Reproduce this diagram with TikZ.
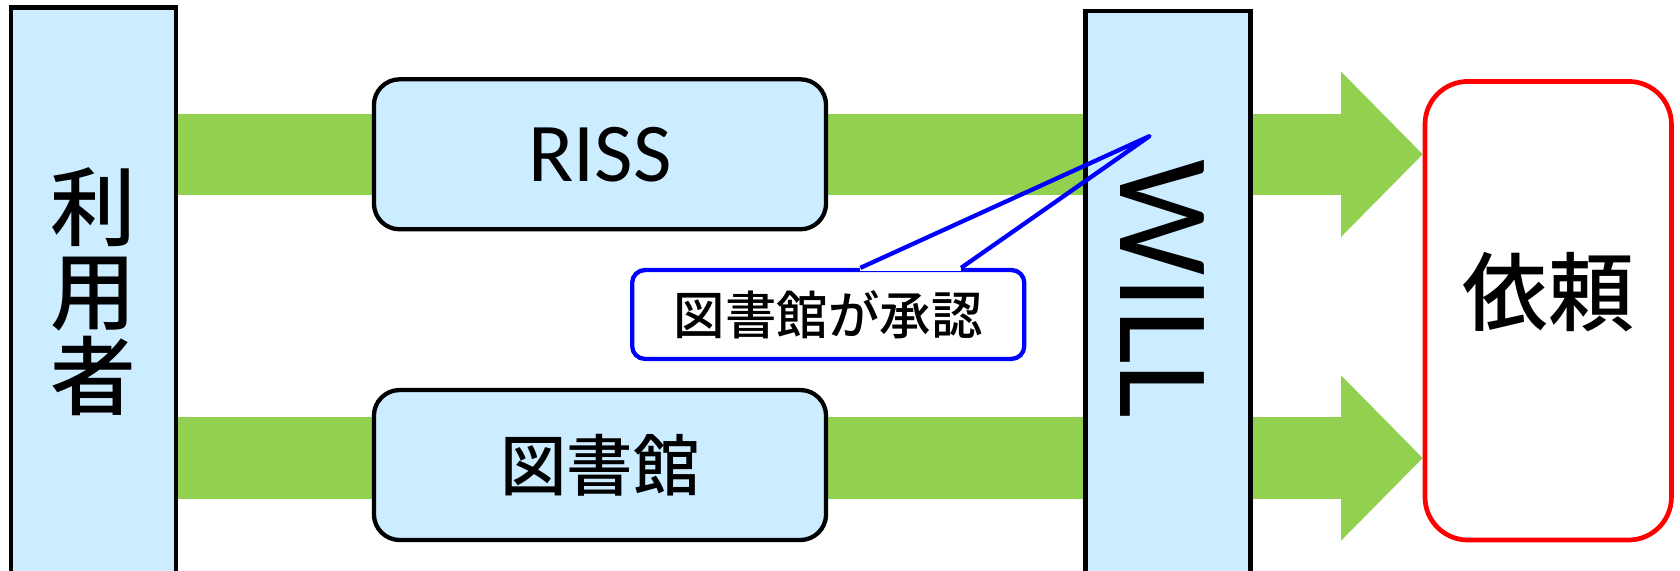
\documentclass[tikz,border=0pt]{standalone}
\usepackage{fontspec}
\setmainfont{Noto Sans CJK JP}[UprightFont=* Medium]
\newfontfamily\latinfont{Carlito}
\usetikzlibrary{arrows.meta,backgrounds}
\definecolor{paleblue}{HTML}{CCECFF}
\definecolor{flowgreen}{HTML}{92D050}

\begin{document}
\begin{tikzpicture}[x=0.5pt, y=-0.5pt,
    side/.style ={rectangle, draw, line width=2pt, fill=paleblue, inner sep=0pt, minimum width=77pt, minimum height=265pt},
    service/.style ={rectangle, rounded corners=12pt, draw, line width=2pt, fill=paleblue, minimum width=211pt, minimum height=70pt},
    request/.style ={rectangle, rounded corners=20pt, draw=red, line width=2.2pt, fill=white, minimum width=115pt, minimum height=214pt},
    note/.style ={rectangle, rounded corners=6pt, draw=blue, line width=2pt, fill=white, minimum width=183pt, minimum height=41.5pt, font=\fontsize{24pt}{28pt}\selectfont},
    flow/.style ={draw=flowgreen, line width=38pt, -{Triangle[length=38pt, width=77pt, line width=0pt]}}]
   \useasboundingbox (0,0) rectangle (1568,532);
   \node[side, align=center, font=\fontsize{40pt}{39.5pt}\selectfont] (user) at (87,272) {利\\用\\者};
   \node[service, font=\latinfont\fontsize{39pt}{44pt}\selectfont] (riss) at (560,144) {RISS};
   \node[service, font=\fontsize{31pt}{36pt}\selectfont] (lib) at (560,434) {図書館};
   \node[side, label={[xshift=-2.5pt, yshift=2.5pt, rotate=-90, font=\latinfont\fontsize{61pt}{68pt}\selectfont]center:WILL}] (will) at (1090,275) {};
   \node[request, label={[yshift=8.5pt, font=\fontsize{40pt}{48pt}\selectfont]center:依頼}] (irai) at (1445,290) {};
   \begin{scope}[on background layer]
     \draw[flow] (user.east |- riss) -- (irai.west |- riss);
     \draw[flow] ([yshift=3.25pt]user.east |- lib) -- ([yshift=3.25pt]irai.west |- lib);
   \end{scope}
   % callout
   \node[note] (approve) at (773,293.5) {図書館が承認};
   \coordinate (tip) at (1073,127);
   \draw[white, line width=3pt] ([xshift=15pt]approve.north) -- ([xshift=62pt]approve.north);
   \draw[blue, line width=2pt, line join=round] ([xshift=15pt]approve.north) -- (tip) -- ([xshift=62pt]approve.north);
\end{tikzpicture}
\end{document}
